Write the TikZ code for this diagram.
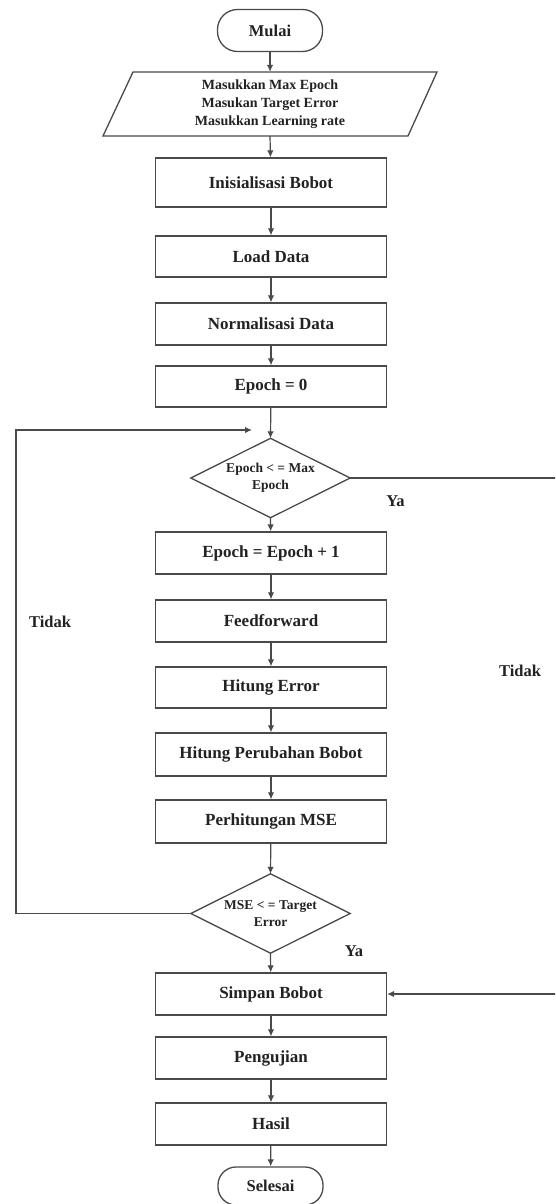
\documentclass[tikz,border=0pt]{standalone}
\usepackage{fontspec}
\setmainfont{Liberation Serif}
\usetikzlibrary{arrows.meta}
\definecolor{lc}{HTML}{4A4A4A}
\definecolor{tc}{HTML}{222222}
\begin{document}
\begin{tikzpicture}[x=1pt,y=-1pt,
  shapeline/.style={draw=lc, line width=1.3pt},
  box/.style={shapeline, minimum width=231pt, minimum height=42pt, inner sep=0pt,
    font=\fontsize{17}{20}\selectfont\bfseries, text=tc},
  term/.style={shapeline, rounded corners=20pt, minimum width=105pt, minimum height=42pt,
    inner sep=0pt, font=\fontsize{16.5}{20}\selectfont\bfseries, text=tc},
  hidden/.style={inner sep=0pt, align=center, text=tc},
  lbl/.style={inner sep=0pt, text=tc, font=\fontsize{16.5}{20}\selectfont\bfseries},
  arr/.style={draw=lc, line width=1.2pt, -{Latex[length=7pt,width=6.5pt]}},
  ln/.style={draw=lc, line width=1.2pt}
]
\clip (0,0) rectangle (555,1204);
\fill[white] (0,0) rectangle (555,1204);

% nodes
\node[term] (start) at (270,30.5) {Mulai};
\node[hidden, minimum width=275pt, minimum height=64pt,
  font=\fontsize{14}{18}\selectfont\bfseries] (in) at (270,104)
  {Masukkan Max Epoch\\Masukan Target Error\\Masukkan Learning rate};
\draw[shapeline] (103,136) -- (133,72) -- (437,72) -- (408,136) -- cycle;

\node[box, minimum height=49pt] (init) at (271,182.5) {Inisialisasi Bobot};
\node[box, minimum height=41pt] (load) at (271,256.5) {Load Data};
\node[box] (norm) at (271,324) {Normalisasi Data};
\node[box, minimum height=41pt] (ep0) at (271,386.5) {Epoch = 0};

\node[hidden, minimum width=159pt, minimum height=79pt,
  font=\fontsize{13.5}{17}\selectfont\bfseries] (d1) at (270.5,478)
  {Epoch \textless\ = Max\\Epoch};
\draw[shapeline] (d1.north) -- (d1.east) -- (d1.south) -- (d1.west) -- cycle;

\node[box] (inc) at (271,553) {Epoch = Epoch + 1};
\node[box] (ff) at (271,621) {Feedforward};
\node[box, minimum height=41pt] (err) at (271,687.5) {Hitung Error};
\node[box, minimum height=43pt] (dw) at (271,754.5) {Hitung Perubahan Bobot};
\node[box, minimum height=43pt] (mse) at (271,821.5) {Perhitungan MSE};

\node[hidden, minimum width=159pt, minimum height=79pt,
  font=\fontsize{13.5}{17}\selectfont\bfseries] (d2) at (270.5,913.5)
  {MSE \textless\ = Target\\Error};
\draw[shapeline] (d2.north) -- (d2.east) -- (d2.south) -- (d2.west) -- cycle;

\node[box] (save) at (271,994) {Simpan Bobot};
\node[box] (test) at (271,1058) {Pengujian};
\node[box] (hasil) at (271,1124) {Hasil};
\node[term, minimum height=38pt, rounded corners=18pt] (stop) at (270.5,1186) {Selesai};

% labels
\node[lbl] (ya1) at (395.5,501.5) {Ya};
\node[lbl] (ya2) at (354,951) {Ya};
\node[lbl] (tidak1) at (50,622) {Tidak};
\node[lbl] (tidak2) at (520,671) {Tidak};

% coordinates for loops
\coordinate (lt) at (16,913.5);
\coordinate (lb) at (16,430);
\coordinate (lend) at (252,430);
\coordinate (rt) at (558,478);
\coordinate (rb) at (558,994);

% connectors
\draw[arr] (start) -- (in.north);
\draw[arr] (in.south) -- (init);
\draw[arr] (init) -- (load);
\draw[arr] (load) -- (norm);
\draw[arr] (norm) -- (ep0);
\draw[arr] (ep0) -- (d1.north);
\draw[arr] (d1.south) -- (inc);
\draw[arr] (inc) -- (ff);
\draw[arr] (ff) -- (err);
\draw[arr] (err) -- (dw);
\draw[arr] (dw) -- (mse);
\draw[arr] (mse) -- (d2.north);
\draw[arr] (d2.south) -- (save);
\draw[arr] (save) -- (test);
\draw[arr] (test) -- (hasil);
\draw[arr] (hasil) -- (stop);

\draw[arr] (d2.west) -- (lt) -- (lb) -- (lend);
\draw[arr] (d1.east) -- (rt) -- (rb) -- (save.east);
\end{tikzpicture}
\end{document}
